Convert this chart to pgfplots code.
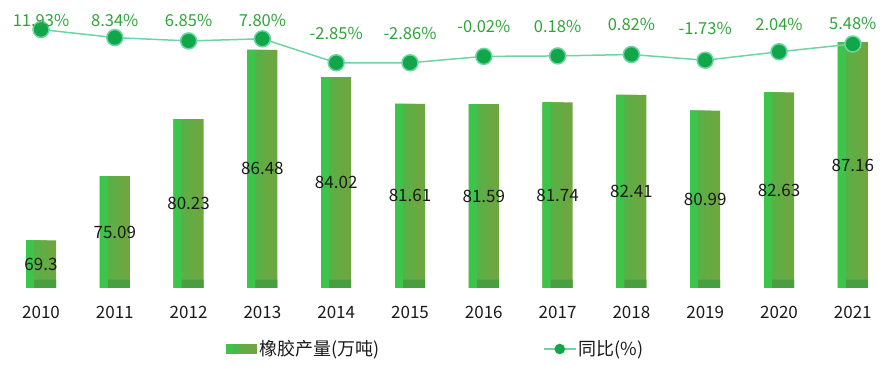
\documentclass[border=0pt]{standalone}
\usepackage{pgfplots}
\pgfplotsset{compat=1.18}
\usepackage{fontspec}
\setmainfont{Noto Sans CJK SC}
\definecolor{barL}{HTML}{3DC54B}
\definecolor{barA}{HTML}{4AB748}
\definecolor{barM}{HTML}{58B046}
\definecolor{barN}{HTML}{63AB43}
\definecolor{barB}{HTML}{6DA741}
\definecolor{barD}{HTML}{4A9E42}
\definecolor{lineC}{HTML}{6BD5A3}
\definecolor{markC}{HTML}{12A64A}
\definecolor{pctC}{HTML}{2FA43A}
\definecolor{txt}{HTML}{1A1A1A}
\pgfplotstableread{
x y
0 69.3
1 75.09
2 80.23
3 86.48
4 84.02
5 81.61
6 81.59
7 81.74
8 82.41
9 80.99
10 82.63
11 87.16
}\prod
\pgfplotstableread{
x y
0 65.75
1 65.75
2 65.75
3 65.75
4 65.75
5 65.75
6 65.75
7 65.75
8 65.75
9 65.75
10 65.75
11 65.75
}\bottoms
\begin{document}
\begin{tikzpicture}
\pgfplotsset{base/.style={
  at={(0bp,84bp)}, anchor=south west,
  scale only axis, width=887bp, height=288bp,
  xmin=-0.5556, xmax=11.4634,
  clip=false,
}}
% ---------- bars ----------
\begin{axis}[base,
  ymin=65, ymax=90.97,
  axis line style={draw=none}, tick style={draw=none},
  ytick=\empty,
  xtick={0,...,11},
  xticklabels={2010,2011,2012,2013,2014,2015,2016,2017,2018,2019,2020,2021},
  xticklabel style={anchor=center, yshift=-24bp, font=\fontsize{17bp}{20bp}\selectfont, text=txt},
  legend style={draw=none, fill=none, inner sep=0pt, outer sep=0pt,
    at={(axis description cs:0.2548,-0.2118)}, anchor=west,
    font=\fontsize{18bp}{21bp}\selectfont, text=txt,
    nodes={inner sep=2bp}},
]
\addplot[ybar, bar width=30bp, bar shift=0bp, draw=none, fill=barB,
  legend image code/.code={
    \fill[barB] (0bp,-5bp) rectangle (31bp,5bp);
    \fill[barN] (0bp,-5bp) rectangle (22bp,5bp);
    \fill[barA] (0bp,-5bp) rectangle (14bp,5bp);
    \fill[barL] (0bp,-5bp) rectangle (7bp,5bp);}]
  table {\prod};
\addlegendentry{橡胶产量(万吨)}
\addplot[ybar, bar width=21bp, bar shift=-4.5bp, draw=none, fill=barN, forget plot] table {\prod};
\addplot[ybar, bar width=14bp, bar shift=-8bp, draw=none, fill=barM, forget plot] table {\prod};
\addplot[ybar, bar width=8bp, bar shift=-11bp, draw=none, fill=barL, forget plot] table {\prod};
\addplot[ybar, bar width=22bp, bar shift=4bp, draw=none, fill=barD, forget plot] table {\bottoms};
\addplot[draw=none, mark=none, forget plot,
  nodes near coords, point meta=explicit symbolic,
  every node near coord/.append style={anchor=center, font=\fontsize{17bp}{20bp}\selectfont, text=txt}]
  table[meta=lab] {
x y lab
0 67.15 69.3
1 70.045 75.09
2 72.615 80.23
3 75.74 86.48
4 74.51 84.02
5 73.305 81.61
6 73.295 81.59
7 73.37 81.74
8 73.705 82.41
9 72.995 80.99
10 73.815 82.63
11 76.08 87.16
};
\end{axis}
% ---------- line ----------
\begin{axis}[base,
  ymin=-102.96, ymax=25.04,
  hide axis,
  legend style={draw=none, fill=none, inner sep=0pt, outer sep=0pt,
    at={(axis description cs:0.6122,-0.2118)}, anchor=west,
    font=\fontsize{18bp}{21bp}\selectfont, text=txt,
    nodes={inner sep=2bp}},
]
\addplot[lineC, line width=1.5bp, mark=*, mark size=8bp,
  mark options={draw=none, fill=markC},
  legend image code/.code={
    \draw[lineC, line width=1.5bp] (0bp,0bp) -- (32bp,0bp);
    \fill[markC] (16bp,0bp) circle (4.5bp);}]
  table {
x y
0 11.93
1 8.34
2 6.85
3 7.80
4 -2.85
5 -2.86
6 -0.02
7 0.18
8 0.82
9 -1.73
10 2.04
11 5.48
};
\addlegendentry{同比(\%)}
\addplot[draw=none, mark=none, forget plot,
  nodes near coords={\pgfplotspointmeta\%}, point meta=explicit symbolic,
  every node near coord/.append style={anchor=center, font=\fontsize{16.5bp}{19bp}\selectfont, text=pctC}]
  table[meta=lab] {
x y lab
0 16.15 11.93
1 16.15 8.34
2 16.15 6.85
3 16.15 7.80
4 10.37 -2.85
5 10.37 -2.86
6 13.48 -0.02
7 13.48 0.18
8 14.37 0.82
9 12.60 -1.73
10 14.37 2.04
11 14.82 5.48
};
\end{axis}
\pgfresetboundingbox
\path[use as bounding box] (0bp,0bp) rectangle (887bp,372bp);
\end{tikzpicture}
\end{document}
